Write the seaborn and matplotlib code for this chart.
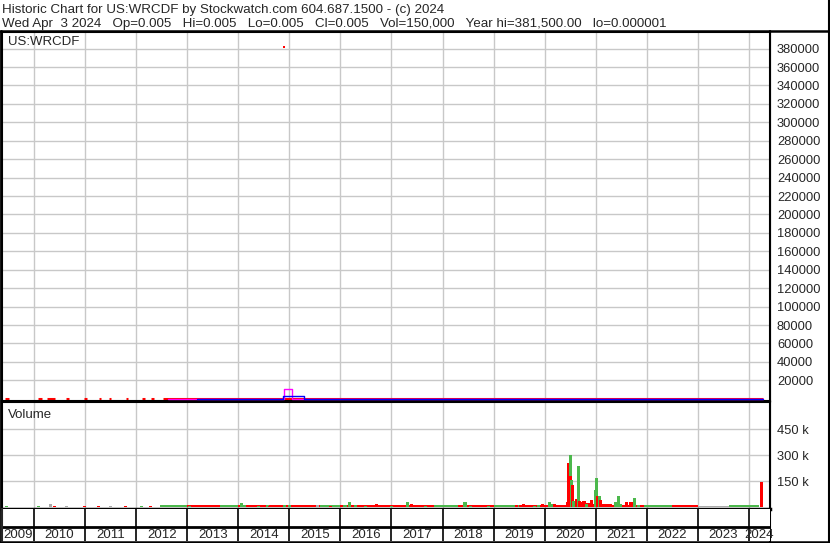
import matplotlib
matplotlib.use('Agg')
from matplotlib import pyplot as plt
import seaborn as sns

# ---- data ----
title_1 = 'Historic Chart for US:WRCDF by Stockwatch.com 604.687.1500 - (c) 2024'
title_2 = 'Wed Apr  3 2024   Op=0.005   Hi=0.005   Lo=0.005   Cl=0.005   Vol=150,000   Year hi=381,500.00   lo=0.000001'
years = [2009, 2010, 2011, 2012, 2013, 2014, 2015, 2016, 2017, 2018, 2019, 2020, 2021, 2022, 2023, 2024]
price_ticks = [20000, 40000, 60000, 80000, 100000, 120000, 140000, 160000, 180000, 200000,
               220000, 240000, 260000, 280000, 300000, 320000, 340000, 360000, 380000]
vol_ticks = [150, 300, 450]

# trading stretches of the close price (all close to zero on this scale)
price_start = [2009.43, 2010.08, 2010.25, 2010.63, 2010.98, 2011.27, 2011.47, 2011.80, 2012.11, 2012.29, 2012.53]
price_end = [2009.51, 2010.16, 2010.41, 2010.69, 2011.04, 2011.31, 2011.51, 2011.84, 2012.17, 2012.35, 2024.27]
price_level = [0.01, 0.02, 0.01, 0.01, 0.01, 0.01, 0.01, 0.01, 0.01, 0.01, 0.005]

# the bad print of 381,500
spike_t = [2014.89]
spike_v = [381500]

# moving averages, step shaped around the bad print
ma_short_t = [2012.62, 2014.89, 2014.89, 2015.06, 2015.06, 2024.27]
ma_short_v = [0, 0, 11000, 11000, 0, 0]
ma_long_t = [2013.19, 2014.88, 2014.88, 2015.29, 2015.29, 2024.27]
ma_long_v = [0, 0, 2800, 2800, 0, 0]

# volume bars (thousands of shares); g = up, r = down, n = unchanged
vol_t = [2009.47, 2010.08, 2010.33, 2010.41, 2010.63, 2010.98, 2011.27, 2011.49, 2011.80, 2012.11, 2012.29,
         2013.05, 2013.70, 2013.85, 2014.07, 2014.12, 2014.23, 2014.40, 2014.58, 2014.62, 2014.91, 2015.00,
         2015.37, 2015.45, 2015.56, 2015.66, 2015.76, 2015.80, 2016.09, 2016.17, 2016.29, 2016.50, 2016.70,
         2016.89, 2017.00, 2017.32, 2017.40, 2017.56, 2017.67, 2017.81, 2018.44, 2018.55, 2018.90, 2019.05,
         2019.25, 2019.44, 2019.61, 2019.80, 2019.88, 2019.95, 2020.10, 2020.14, 2020.20, 2020.30,
         2019.59, 2020.44, 2020.46, 2020.50, 2020.51, 2020.52, 2020.54, 2020.57, 2020.63, 2020.67, 2020.69,
         2020.73, 2020.77, 2020.81, 2020.91, 2020.95, 2021.00, 2021.02, 2021.04, 2021.08, 2021.10, 2021.14,
         2021.22, 2021.28, 2021.38, 2021.44, 2021.49, 2021.61, 2021.69, 2021.75, 2021.83, 2021.98,
         2022.10, 2022.20, 2022.40, 2022.55, 2022.80, 2023.05, 2023.30, 2023.55, 2023.70, 2023.90, 2024.25]
vol_k = [5, 5, 17, 5, 5, 4, 4, 5, 4, 4, 4,
         8, 10, 9, 22, 12, 14, 8, 14, 8, 14, 9,
         14, 9, 10, 10, 12, 8, 14, 30, 14, 8, 16,
         10, 8, 30, 16, 10, 6, 14, 28, 6, 7, 8,
         7, 9, 14, 8, 10, 20, 27, 18, 20, 10,
         17, 27, 254, 300, 178, 156, 127, 33, 48, 235, 37,
         27, 37, 20, 42, 15, 99, 167, 61, 61, 42, 15,
         10, 15, 27, 61, 20, 27, 27, 52, 12, 12,
         8, 6, 8, 7, 6, 6, 6, 7, 8, 6, 144]
vol_c = ['g', 'g', 'n', 'r', 'n', 'r', 'r', 'n', 'r', 'g', 'r',
         'g', 'g', 'g', 'g', 'g', 'r', 'g', 'g', 'r', 'g', 'g',
         'r', 'r', 'n', 'g', 'g', 'r', 'g', 'g', 'g', 'g', 'r',
         'r', 'g', 'g', 'r', 'r', 'g', 'r', 'g', 'g', 'g', 'g',
         'g', 'r', 'r', 'g', 'g', 'r', 'g', 'g', 'r', 'r',
         'r', 'r', 'r', 'g', 'r', 'g', 'r', 'g', 'r', 'g', 'r',
         'r', 'r', 'g', 'r', 'r', 'g', 'g', 'r', 'g', 'r', 'r',
         'r', 'r', 'g', 'g', 'g', 'r', 'r', 'g', 'g', 'g',
         'g', 'g', 'g', 'r', 'r', 'n', 'n', 'n', 'g', 'g', 'r']

# low daily volume that forms the strip along the bottom
band_start = [2012.47, 2013.00, 2013.65, 2014.00, 2015.60, 2016.00, 2017.80, 2018.30, 2019.00, 2019.50,
              2020.42, 2020.95, 2021.30, 2022.00, 2022.50, 2023.00, 2023.60]
band_end = [2013.00, 2013.65, 2014.00, 2015.60, 2016.00, 2017.80, 2018.30, 2019.00, 2019.50, 2020.42,
            2020.95, 2021.30, 2022.00, 2022.50, 2023.00, 2023.60, 2024.20]
band_k = [9, 10, 11, 10, 10, 10, 9, 10, 9, 11, 22, 16, 11, 9, 9, 8, 9]
band_c = ['g', 'r', 'g', 'r', 'g', 'r', 'g', 'r', 'g', 'r', 'r', 'r', 'r', 'g', 'r', 'n', 'g']

colours = {'g': '#4CB84C', 'r': '#FF0000', 'n': '#AAAAAA'}
grid_col = '#C8C8C8'

sns.set_style('white')
plt.rcParams['font.family'] = ['Liberation Sans', 'DejaVu Sans']
plt.rcParams['font.size'] = 9.5

W, H = 830, 543
fig = plt.figure(figsize=(W / 100, H / 100), dpi=100)


def px_axes(x0, y0, x1, y1):
    return fig.add_axes([x0 / W, 1 - y1 / H, (x1 - x0) / W, (y1 - y0) / H])


x_lo, x_hi = 2009.373, 2024.412

# ---- price panel ----
ax = px_axes(2, 32, 770, 401)
ax.set_xlim(x_lo, x_hi)
ax.set_ylim(-2400, 398000)
for t in years[1:]:
    ax.axvline(t, color=grid_col, lw=1, zorder=0)
for v in price_ticks:
    ax.axhline(v, color=grid_col, lw=1, zorder=0)
ax.hlines(price_level, price_start, price_end, color='#FF0000', lw=2.2, zorder=2)
sns.lineplot(x=ma_short_t, y=ma_short_v, ax=ax, color='#FF00FF', lw=1, estimator=None, sort=False, zorder=3)
sns.lineplot(x=ma_long_t, y=ma_long_v, ax=ax, color='#0000FF', lw=1, estimator=None, sort=False, zorder=4)
sns.scatterplot(x=spike_t, y=spike_v, ax=ax, color='#FF0000', marker='s', s=4, linewidth=0)
ax.yaxis.tick_right()
ax.set_yticks(price_ticks)
ax.set_yticklabels([str(v) for v in price_ticks])
ax.set_xticks([])
ax.tick_params(axis='y', length=0, pad=5, labelsize=9.3)
for s in ax.spines.values():
    s.set_color('black')
    s.set_linewidth(1.5)
ax.text(0.008, 0.988, 'US:WRCDF', transform=ax.transAxes, fontsize=9.5, va='top', ha='left')

# ---- volume panel ----
av = px_axes(2, 402, 770, 509)
av.set_xlim(x_lo, x_hi)
av.set_ylim(-11.5, 605.8)
for t in years[1:]:
    av.axvline(t, color=grid_col, lw=1, zorder=0)
for v in vol_ticks:
    av.axhline(v, color=grid_col, lw=1, zorder=0)
for a, b, k, c in zip(band_start, band_end, band_k, band_c):
    av.fill_between([a, b], 0, k, color=colours[c], lw=0, zorder=2)
av.bar(vol_t, vol_k, width=0.06, color=[colours[c] for c in vol_c], lw=0, zorder=3)
av.yaxis.tick_right()
av.set_yticks(vol_ticks)
av.set_yticklabels([f'{v} k' for v in vol_ticks])
av.set_xticks([])
av.tick_params(axis='y', length=0, pad=5, labelsize=9.3)
for s in av.spines.values():
    s.set_color('black')
    s.set_linewidth(1.5)
av.spines['bottom'].set_linewidth(2.5)
av.text(0.008, 0.93, 'Volume', transform=av.transAxes, fontsize=9.5, va='top', ha='left')

# ---- year strip ----
ay = px_axes(2, 509, 770, 541)
ay.set_xlim(x_lo, x_hi)
ay.set_ylim(0, 1)
for t in years[1:]:
    ay.axvline(t, color='black', lw=1.2)
ay.axhline(0.45, color='black', lw=2)
for y in years:
    a, b = max(y, x_lo), min(y + 1, x_hi)
    ay.text((a + b) / 2, 0.2, str(y), ha='center', va='center', fontsize=9.5, clip_on=False)
ay.set_xticks([])
ay.set_yticks([])
for s in ay.spines.values():
    s.set_visible(False)
ay.spines['left'].set_visible(True)
ay.spines['left'].set_linewidth(1.5)

# ---- frame and header ----
frame = fig.add_axes([0, 0, 1, 1], zorder=-1)
frame.set_xlim(0, W)
frame.set_ylim(H, 0)
frame.axis('off')
frame.plot([0, W], [31, 31], color='black', lw=1.8)
frame.plot([0, W], [541.5, 541.5], color='black', lw=1.8)
frame.plot([828.5, 828.5], [0, H], color='black', lw=1.5)
frame.plot([770, 770], [31, H], color='black', lw=1.5)
frame.plot([1, 1], [31, H], color='black', lw=2)
frame.text(2, 10, title_1, fontsize=9.6, va='center', ha='left')
frame.text(2, 24, title_2, fontsize=9.6, va='center', ha='left')

plt.savefig('out.png', dpi=100)
plt.close()
